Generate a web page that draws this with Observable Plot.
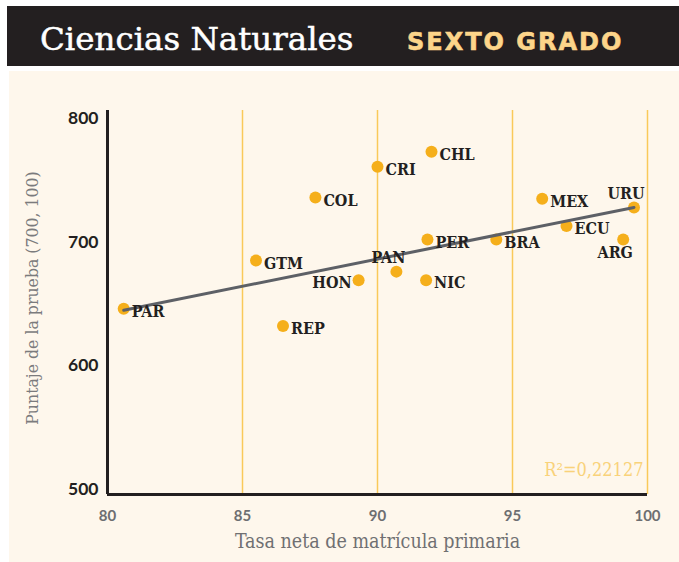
<!DOCTYPE html>
<html>
<head>
<meta charset="utf-8">
<script src="https://cdn.jsdelivr.net/npm/d3@7"></script>
<script src="https://cdn.jsdelivr.net/npm/@observablehq/plot@0.6"></script>
<style>
  html, body { margin: 0; padding: 0; background: #ffffff; }
  #wrap { position: relative; width: 679px; height: 562px; overflow: hidden; }
  #cream { position: absolute; left: 9px; top: 71px; width: 670px; height: 491px; background: #FEF7EC; }
  #header { position: absolute; left: 0; top: 0; }
  #chart { position: absolute; left: 0; top: 0; }
</style>
</head>
<body>
<div id="wrap">
  <div id="cream"></div>
  <svg id="header" width="679" height="70">
    <rect x="7" y="6" width="672" height="60" fill="#231f20"></rect>
    <text id="title" x="40" y="50" fill="#ffffff" stroke="#ffffff" stroke-width="0.5"
      style="font-family:'DejaVu Serif';font-size:32.5px;"></text>
    <text id="subtitle" x="407" y="49.5" fill="#FDD58A" stroke="#FDD58A" stroke-width="0.6"
      style="font-family:'DejaVu Sans';font-weight:bold;font-size:24px;letter-spacing:2px;"></text>
  </svg>
  <div id="chart"></div>
</div>
<script>
// ---- data ----
const titleText = "Ciencias Naturales";
const subtitleText = "SEXTO GRADO";
const countries = ["PAR","REP","GTM","COL","HON","PAN","CRI","CHL","PER","NIC","BRA","MEX","ECU","ARG","URU"];
const matricula = [80.6, 86.5, 85.5, 87.7, 89.3, 90.7, 90.0, 92.0, 91.85, 91.8, 94.4, 96.1, 97.0, 99.1, 99.5];
const puntaje   = [646, 632, 685, 736, 669, 676, 761, 773, 702, 669, 702, 735, 713, 702, 728];
const trendX = [80.6, 99.5];
const trendY = [644.8, 728.0];
const xTicks = [80, 85, 90, 95, 100];
const xGrid = [85, 90, 95, 100];
const yTicks = [500, 600, 700, 800];
const xAxisTitle = "Tasa neta de matrícula primaria";
const yAxisTitle = "Puntaje de la prueba (700, 100)";
const r2Label = "R²=0,22127";

document.getElementById("title").textContent = titleText;
document.getElementById("subtitle").textContent = subtitleText;

// label placement (style, not data)
const placement = {HON: "left", PAN: "above", URU: "above", ARG: "below"};

const rows = countries.map((c, i) => ({country: c, x: matricula[i], y: puntaje[i], pos: placement[c] || "right"}));
const trend = trendX.map((x, i) => ({x, y: trendY[i]}));

const serifFont = "'DejaVu Serif Condensed', 'DejaVu Serif'";
const labelFont = {fontFamily: serifFont, fontWeight: "bold", fontSize: 16, fill: "#231f20"};

const chart = Plot.plot({
  width: 679,
  height: 562,
  marginTop: 110,
  marginLeft: 107,
  marginRight: 32,
  marginBottom: 68,
  style: {background: "transparent", fontFamily: "Lato, sans-serif"},
  x: {domain: [80, 100]},
  y: {domain: [495.5, 806.5]},
  marks: [
    Plot.gridX(xGrid, {stroke: "#F9C95A", strokeOpacity: 1, strokeWidth: 1.5}),
    Plot.ruleX([80], {stroke: "#231f20", strokeWidth: 3}),
    Plot.ruleY([495.5], {stroke: "#231f20", strokeWidth: 3}),
    Plot.axisY({ticks: yTicks, tickSize: 0, tickPadding: 9, label: null, fontSize: 17.5, fontWeight: "bold", color: "#231f20"}),
    Plot.axisX({ticks: xTicks, tickSize: 0, tickPadding: 16, label: null, fontSize: 15, fontWeight: "bold", color: "#6d6e71"}),
    Plot.dot(rows, {x: "x", y: "y", r: 6, fill: "#F5AF1B"}),
    Plot.line(trend, {x: "x", y: "y", stroke: "#5d6066", strokeWidth: 3}),
    Plot.text(rows.filter(d => d.pos === "right"), {x: "x", y: "y", text: "country", textAnchor: "start", dx: 8, dy: 3, ...labelFont}),
    Plot.text(rows.filter(d => d.pos === "left"), {x: "x", y: "y", text: "country", textAnchor: "end", dx: -7, dy: 3, ...labelFont}),
    Plot.text(rows.filter(d => d.pos === "above"), {x: "x", y: "y", text: "country", textAnchor: "middle", dx: -8, dy: -14, ...labelFont}),
    Plot.text(rows.filter(d => d.pos === "below"), {x: "x", y: "y", text: "country", textAnchor: "middle", dx: -8, dy: 13, ...labelFont}),
    Plot.text([xAxisTitle], {text: d => d, frameAnchor: "bottom", textAnchor: "middle", dy: 53, fontFamily: serifFont, fontSize: 19.5, fill: "#707072"}),
    Plot.text([yAxisTitle], {text: d => d, frameAnchor: "left", textAnchor: "middle", rotate: -90, dx: -75, dy: -4.5, fontFamily: serifFont, fontSize: 17.5, fill: "#7b7b7d"}),
    Plot.text([r2Label], {text: d => d, frameAnchor: "bottom-right", textAnchor: "end", dx: -4, dy: -19, fontFamily: serifFont, fontSize: 18, fill: "#F9D27A"})
  ]
});
document.getElementById("chart").appendChild(chart);
</script>
</body>
</html>
